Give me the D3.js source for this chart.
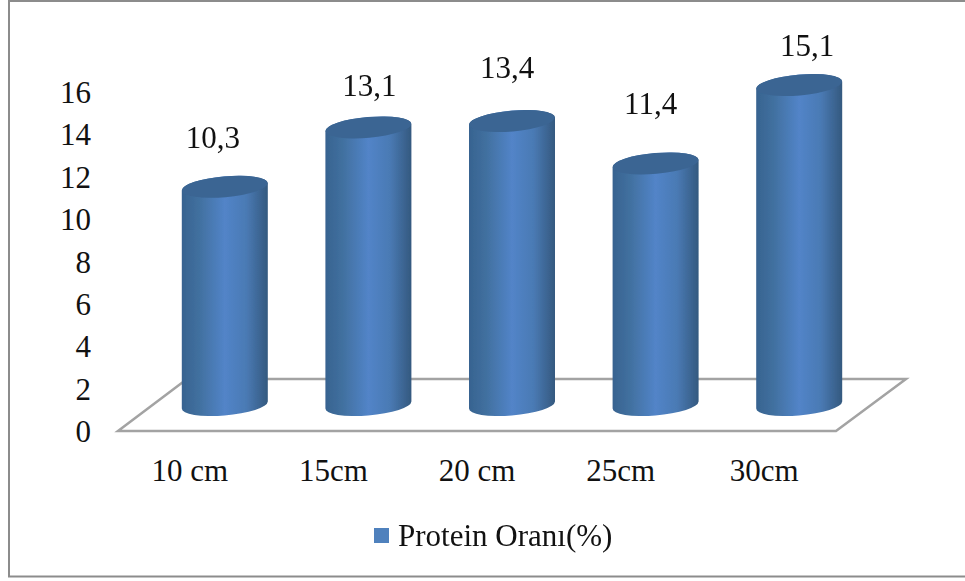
<!DOCTYPE html>
<html>
<head>
<meta charset="utf-8">
<script src="https://d3js.org/d3.v7.min.js"></script>
<style>
    html, body { margin: 0; padding: 0; background: #fff; overflow: hidden; }
    svg { display: block; }
    text { font-family: "Liberation Serif", serif; fill: #111; }
</style>
</head>
<body>
<div id="chart"></div>
<script>
const categories = ['10 cm', '15cm', '20 cm', '25cm', '30cm'];
const values = [10.3, 13.1, 13.4, 11.4, 15.1];
const valueLabels = ['10,3', '13,1', '13,4', '11,4', '15,1'];
const yTicks = [0, 2, 4, 6, 8, 10, 12, 14, 16];
const seriesName = 'Protein Oranı(%)';

const width = 965, height = 581;
const axisGray = '#a3a3a3';
const fontSize = 31;

// 3d look: bars stand further back on the floor than the axes
const depthX = 69, depthY = 52;
const barShiftX = 35, barShiftY = 26;
const rx = 43, ry = 10.4, tilt = -5;
const edgeDrop = 3.5; // ellipse is tilted, so the right side ends higher than the left

// data labels were placed by hand in the original
const labelNudge = [[-12, -39], [1, -31], [-5, -43], [-5, -49], [8, -29]];

const svg = d3.select('#chart').append('svg')
    .attr('width', width)
    .attr('height', height);

const defs = svg.append('defs');
const grad = defs.append('linearGradient').attr('id', 'barFill');
grad.selectAll('stop')
    .data([[0, '#376390'], [0.2, '#41709f'], [0.5, '#5284c8'], [0.75, '#4a7ab4'], [1, '#34597f']])
    .join('stop')
    .attr('offset', d => d[0])
    .attr('stop-color', d => d[1]);
defs.append('filter').attr('id', 'soft')
    .append('feGaussianBlur').attr('stdDeviation', 0.45);

// outer frame, its right side runs off the picture
svg.append('rect')
    .attr('x', 9).attr('y', 1)
    .attr('width', 1000).attr('height', 575.5)
    .attr('fill', 'none')
    .attr('stroke', '#8c8c8c')
    .attr('stroke-width', 2);

const x = d3.scaleBand().domain(categories).range([118, 836]);
const y = d3.scaleLinear().domain([0, 16]).range([431, 92]);

// floor
const floor = d3.path();
floor.moveTo(x.range()[0], y(0));
floor.lineTo(x.range()[0] + depthX, y(0) - depthY);
floor.lineTo(x.range()[1] + depthX + 1, y(0) - depthY);
floor.lineTo(x.range()[1], y(0));
floor.closePath();
svg.append('path')
    .attr('d', floor.toString())
    .attr('fill', 'none')
    .attr('stroke', axisGray)
    .attr('stroke-width', 2.5)
    .attr('filter', 'url(#soft)');

// y axis
const yAxis = svg.append('g')
    .attr('transform', `translate(${x.range()[0]},0)`)
    .call(d3.axisLeft(y).tickValues(yTicks).tickSize(0).tickPadding(27));
yAxis.select('.domain')
    .attr('stroke', axisGray)
    .attr('stroke-width', 2.5)
    .attr('filter', 'url(#soft)');
yAxis.selectAll('text')
    .attr('font-size', fontSize)
    .attr('dy', '0.34em');

// x axis
const xAxis = svg.append('g')
    .attr('transform', `translate(0,${y(0)})`)
    .call(d3.axisBottom(x).tickSize(0).tickPadding(28));
xAxis.select('.domain').remove();
xAxis.selectAll('text')
    .attr('font-size', fontSize);

// cylinders
function barCx(c) { return x(c) + x.bandwidth() / 2 + barShiftX; }
function body(c, v) {
    const cx = barCx(c), bottom = y(0) - barShiftY, top = y(v) - barShiftY;
    return `M${cx - rx},${top + edgeDrop}`
        + `L${cx - rx},${bottom + edgeDrop}`
        + `A${rx},${ry} ${tilt} 0 0 ${cx + rx},${bottom - edgeDrop}`
        + `L${cx + rx},${top - edgeDrop}`
        + `A${rx},${ry} ${tilt} 0 0 ${cx - rx},${top + edgeDrop}Z`;
}

const bars = svg.append('g').attr('filter', 'url(#soft)')
    .selectAll('g')
    .data(d3.zip(categories, values))
    .join('g');
bars.append('path')
    .attr('d', d => body(d[0], d[1]))
    .attr('fill', 'url(#barFill)');
bars.append('ellipse')
    .attr('rx', rx).attr('ry', ry)
    .attr('transform', d => `translate(${barCx(d[0])},${y(d[1]) - barShiftY}) rotate(${tilt})`)
    .attr('fill', '#3b6593');

// value labels
svg.append('g').selectAll('text')
    .data(d3.zip(categories, values, valueLabels, labelNudge))
    .join('text')
    .attr('x', d => barCx(d[0]) + d[3][0])
    .attr('y', d => y(d[1]) - barShiftY + d[3][1])
    .attr('text-anchor', 'middle')
    .attr('font-size', fontSize)
    .text(d => d[2]);

// legend
svg.append('rect')
    .attr('x', 374).attr('y', 528)
    .attr('width', 15).attr('height', 15)
    .attr('fill', '#4f81bd');
svg.append('text')
    .attr('x', 398).attr('y', 546)
    .attr('font-size', fontSize)
    .text(seriesName);
</script>
</body>
</html>
